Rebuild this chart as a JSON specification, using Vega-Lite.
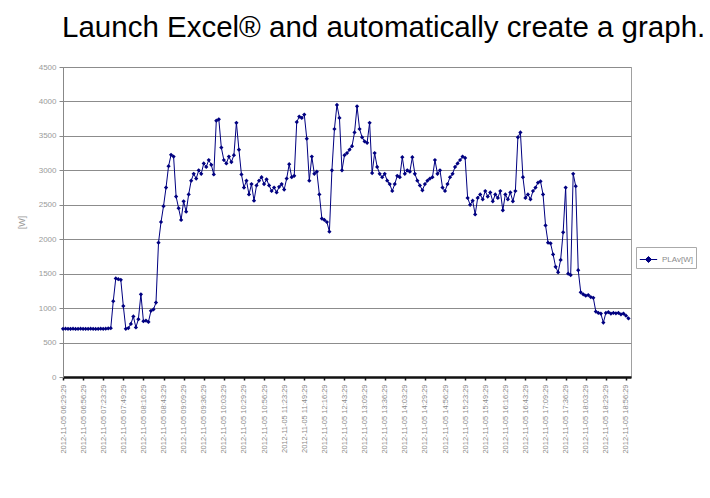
{
  "$schema": "https://vega.github.io/schema/vega-lite/v6.json",
  "autosize": "none",
  "width": 568,
  "height": 310,
  "padding": {"left": 63, "top": 67, "right": 79, "bottom": 121},
  "background": "white",
  "title": {
    "text": "Launch Excel® and automatically create a graph.",
    "anchor": "start",
    "frame": "group",
    "font": "Liberation Sans",
    "fontSize": 29.5,
    "fontWeight": "normal",
    "color": "#000000",
    "baseline": "alphabetic",
    "offset": 26,
    "dy": 29,
    "dx": -1
  },
  "data": {
    "values": [
      {"i":0,"w":700},{"i":1,"w":702},{"i":2,"w":699},{"i":3,"w":700},{"i":4,"w":701},{"i":5,"w":698},{"i":6,"w":700},{"i":7,"w":702},{"i":8,"w":700},{"i":9,"w":699},
      {"i":10,"w":700},{"i":11,"w":701},{"i":12,"w":700},{"i":13,"w":698},{"i":14,"w":700},{"i":15,"w":702},{"i":16,"w":700},{"i":17,"w":701},{"i":18,"w":705},{"i":19,"w":708},
      {"i":20,"w":1100},{"i":21,"w":1430},{"i":22,"w":1420},{"i":23,"w":1410},{"i":24,"w":1030},{"i":25,"w":700},{"i":26,"w":710},{"i":27,"w":770},{"i":28,"w":880},{"i":29,"w":720},
      {"i":30,"w":840},{"i":31,"w":1200},{"i":32,"w":810},{"i":33,"w":820},{"i":34,"w":800},{"i":35,"w":960},{"i":36,"w":980},{"i":37,"w":1080},{"i":38,"w":1950},{"i":39,"w":2250},
      {"i":40,"w":2480},{"i":41,"w":2750},{"i":42,"w":3060},{"i":43,"w":3225},{"i":44,"w":3200},{"i":45,"w":2620},{"i":46,"w":2450},{"i":47,"w":2280},{"i":48,"w":2550},{"i":49,"w":2400},
      {"i":50,"w":2650},{"i":51,"w":2850},{"i":52,"w":2950},{"i":53,"w":2880},{"i":54,"w":3000},{"i":55,"w":2950},{"i":56,"w":3100},{"i":57,"w":3050},{"i":58,"w":3150},{"i":59,"w":3080},
      {"i":60,"w":2940},{"i":61,"w":3720},{"i":62,"w":3740},{"i":63,"w":3330},{"i":64,"w":3150},{"i":65,"w":3100},{"i":66,"w":3200},{"i":67,"w":3120},{"i":68,"w":3220},{"i":69,"w":3690},
      {"i":70,"w":3300},{"i":71,"w":2940},{"i":72,"w":2750},{"i":73,"w":2850},{"i":74,"w":2650},{"i":75,"w":2800},{"i":76,"w":2560},{"i":77,"w":2780},{"i":78,"w":2850},{"i":79,"w":2900},
      {"i":80,"w":2800},{"i":81,"w":2870},{"i":82,"w":2780},{"i":83,"w":2700},{"i":84,"w":2750},{"i":85,"w":2680},{"i":86,"w":2760},{"i":87,"w":2800},{"i":88,"w":2720},{"i":89,"w":2880},
      {"i":90,"w":3090},{"i":91,"w":2900},{"i":92,"w":2920},{"i":93,"w":3700},{"i":94,"w":3780},{"i":95,"w":3760},{"i":96,"w":3810},{"i":97,"w":3460},{"i":98,"w":2850},{"i":99,"w":3200},
      {"i":100,"w":2950},{"i":101,"w":2980},{"i":102,"w":2650},{"i":103,"w":2300},{"i":104,"w":2280},{"i":105,"w":2250},{"i":106,"w":2110},{"i":107,"w":3000},{"i":108,"w":3600},{"i":109,"w":3950},
      {"i":110,"w":3760},{"i":111,"w":3000},{"i":112,"w":3220},{"i":113,"w":3250},{"i":114,"w":3300},{"i":115,"w":3350},{"i":116,"w":3550},{"i":117,"w":3930},{"i":118,"w":3600},{"i":119,"w":3480},
      {"i":120,"w":3420},{"i":121,"w":3400},{"i":122,"w":3690},{"i":123,"w":2960},{"i":124,"w":3250},{"i":125,"w":3050},{"i":126,"w":2950},{"i":127,"w":2900},{"i":128,"w":2950},{"i":129,"w":2850},
      {"i":130,"w":2800},{"i":131,"w":2700},{"i":132,"w":2800},{"i":133,"w":2920},{"i":134,"w":2900},{"i":135,"w":3190},{"i":136,"w":2950},{"i":137,"w":3000},{"i":138,"w":2980},{"i":139,"w":3190},
      {"i":140,"w":2950},{"i":141,"w":2850},{"i":142,"w":2780},{"i":143,"w":2710},{"i":144,"w":2800},{"i":145,"w":2850},{"i":146,"w":2880},{"i":147,"w":2900},{"i":148,"w":3150},{"i":149,"w":2950},
      {"i":150,"w":3000},{"i":151,"w":2750},{"i":152,"w":2700},{"i":153,"w":2800},{"i":154,"w":2900},{"i":155,"w":2950},{"i":156,"w":3050},{"i":157,"w":3100},{"i":158,"w":3150},{"i":159,"w":3200},
      {"i":160,"w":3180},{"i":161,"w":2600},{"i":162,"w":2500},{"i":163,"w":2560},{"i":164,"w":2360},{"i":165,"w":2600},{"i":166,"w":2650},{"i":167,"w":2580},{"i":168,"w":2700},{"i":169,"w":2620},
      {"i":170,"w":2680},{"i":171,"w":2550},{"i":172,"w":2650},{"i":173,"w":2600},{"i":174,"w":2700},{"i":175,"w":2420},{"i":176,"w":2650},{"i":177,"w":2580},{"i":178,"w":2680},{"i":179,"w":2550},
      {"i":180,"w":2700},{"i":181,"w":3480},{"i":182,"w":3550},{"i":183,"w":2900},{"i":184,"w":2600},{"i":185,"w":2650},{"i":186,"w":2580},{"i":187,"w":2700},{"i":188,"w":2750},{"i":189,"w":2820},
      {"i":190,"w":2840},{"i":191,"w":2650},{"i":192,"w":2200},{"i":193,"w":1950},{"i":194,"w":1940},{"i":195,"w":1780},{"i":196,"w":1600},{"i":197,"w":1520},{"i":198,"w":1700},{"i":199,"w":2100},
      {"i":200,"w":2750},{"i":201,"w":1500},{"i":202,"w":1480},{"i":203,"w":2950},{"i":204,"w":2770},{"i":205,"w":1550},{"i":206,"w":1230},{"i":207,"w":1200},{"i":208,"w":1180},{"i":209,"w":1190},
      {"i":210,"w":1160},{"i":211,"w":1150},{"i":212,"w":950},{"i":213,"w":930},{"i":214,"w":920},{"i":215,"w":790},{"i":216,"w":930},{"i":217,"w":940},{"i":218,"w":920},{"i":219,"w":930},
      {"i":220,"w":925},{"i":221,"w":930},{"i":222,"w":910},{"i":223,"w":920},{"i":224,"w":890},{"i":225,"w":850}
    ]
  },
  "encoding": {
    "x": {
      "field": "i",
      "type": "quantitative",
      "scale": {"domain": [0, 226], "nice": false, "zero": false},
      "axis": {
        "title": null,
        "grid": false,
        "values": [0,8,16,24,32,40,48,56,64,72,80,88,96,104,112,120,128,136,144,152,160,168,176,184,192,200,208,216,224],
        "labelExpr": "['2012-11-05 06:29:29','2012-11-05 06:56:29','2012-11-05 07:23:29','2012-11-05 07:49:29','2012-11-05 08:16:29','2012-11-05 08:43:29','2012-11-05 09:09:29','2012-11-05 09:36:29','2012-11-05 10:03:29','2012-11-05 10:29:29','2012-11-05 10:56:29','2012-11-05 11:23:29','2012-11-05 11:49:29','2012-11-05 12:16:29','2012-11-05 12:43:29','2012-11-05 13:09:29','2012-11-05 13:36:29','2012-11-05 14:03:29','2012-11-05 14:29:29','2012-11-05 14:56:29','2012-11-05 15:23:29','2012-11-05 15:49:29','2012-11-05 16:16:29','2012-11-05 16:43:29','2012-11-05 17:09:29','2012-11-05 17:36:29','2012-11-05 18:03:29','2012-11-05 18:29:29','2012-11-05 18:56:29'][round(datum.value/8)]",
        "labelAngle": -90,
        "labelFont": "Liberation Sans",
        "labelFontSize": 7.5,
        "labelColor": "#8a8a8a",
        "labelFlush": false,
        "labelOverlap": false,
        "labelPadding": 4,
        "domainColor": "#111111",
        "domainWidth": 2.5,
        "tickColor": "#111111",
        "tickWidth": 1.5,
        "tickSize": 3
      }
    },
    "y": {
      "field": "w",
      "type": "quantitative",
      "scale": {"domain": [0, 4500], "nice": false},
      "axis": {
        "title": "[W]",
        "values": [0,500,1000,1500,2000,2500,3000,3500,4000,4500],
        "format": "d",
        "labelFont": "Liberation Sans",
        "labelFontSize": 8,
        "labelColor": "#9a9a9a",
        "labelPadding": 3,
        "tickSize": 4,
        "tickColor": "#888888",
        "domainColor": "#888888",
        "gridColor": "#8c8c8c",
        "gridWidth": 1,
        "titleFont": "Liberation Sans",
        "titleFontSize": 9,
        "titleFontWeight": "normal",
        "titleColor": "#9a9a9a",
        "titlePadding": 12
      }
    },
    "color": {
      "datum": "PLAv[W]",
      "type": "nominal",
      "scale": {"range": ["#000080"]},
      "legend": {
        "title": null,
        "orient": "none",
        "legendX": 573,
        "legendY": 180,
        "strokeColor": "#aaaaaa",
        "padding": 3,
        "labelFont": "Liberation Sans",
        "labelFontSize": 8,
        "labelColor": "#8a8a8a",
        "symbolType": "M-1,0H1M-0.35,0L0,-0.35L0.35,0L0,0.35Z",
        "symbolSize": 300,
        "symbolStrokeWidth": 1,
        "symbolFillColor": "#000080",
        "symbolStrokeColor": "#000080"
      }
    }
  },
  "layer": [
    {"mark": {"type": "line", "strokeWidth": 1, "clip": true}},
    {"mark": {"type": "point", "shape": "diamond", "filled": true, "size": 18, "opacity": 1}}
  ],
  "config": {
    "view": {"stroke": "#a0a0a0", "strokeWidth": 1}
  }
}
